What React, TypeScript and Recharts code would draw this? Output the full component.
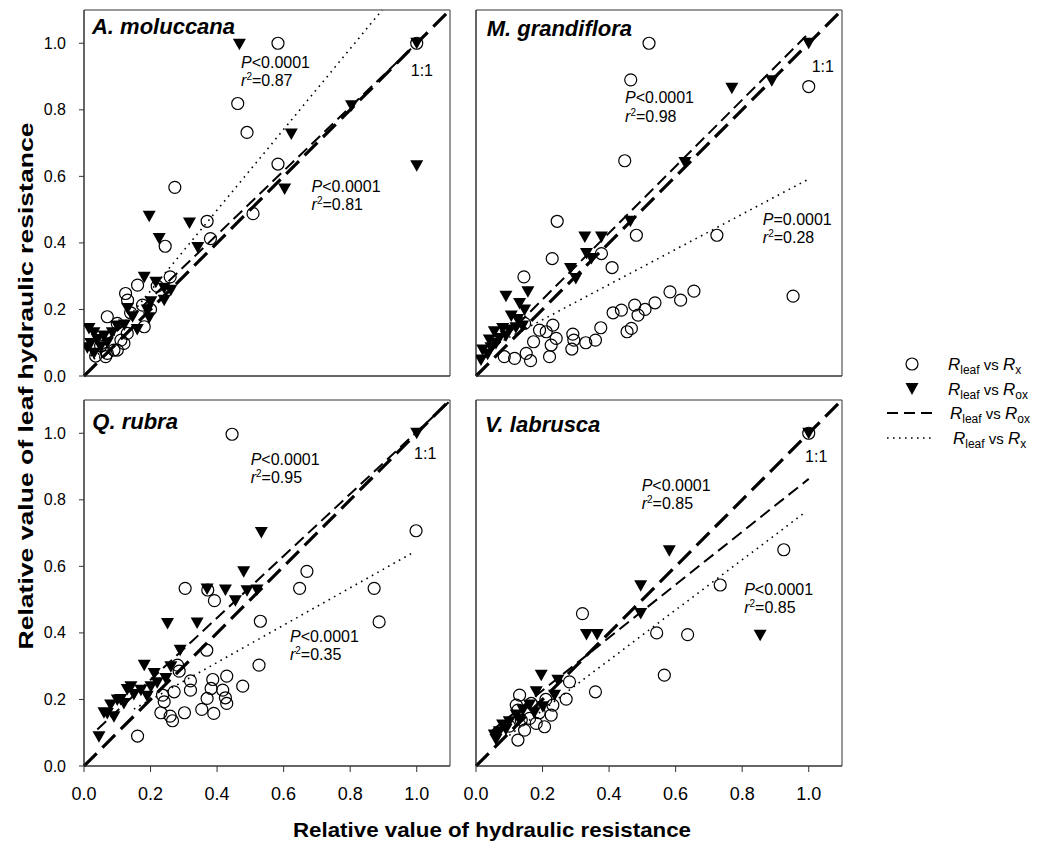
import {
  ScatterChart, Scatter, XAxis, YAxis, ReferenceLine, ReferenceArea, ReferenceDot
} from 'recharts';

type Pt = { x: number; y: number };
const pts = (a: number[][]): Pt[] => a.map(([x, y]) => ({ x, y }));

const ticks = [0, 0.2, 0.4, 0.6, 0.8, 1.0];
const species = ['A. moluccana', 'M. grandiflora', 'Q. rubra', 'V. labrusca'];

// A. moluccana
const molRx = pts([
  [0.583, 1.0], [1.0, 1.0], [0.462, 0.819], [0.49, 0.732], [0.583, 0.637], [0.273, 0.567],
  [0.508, 0.488], [0.37, 0.465], [0.38, 0.413], [0.244, 0.39], [0.259, 0.298], [0.161, 0.273],
  [0.125, 0.248], [0.131, 0.228], [0.176, 0.213], [0.181, 0.148], [0.07, 0.178], [0.1, 0.158],
  [0.13, 0.128], [0.111, 0.108], [0.09, 0.078], [0.07, 0.068], [0.05, 0.09], [0.12, 0.098],
  [0.1, 0.078], [0.065, 0.058], [0.14, 0.19], [0.2, 0.2], [0.22, 0.27], [0.035, 0.06],
]);
const molRox = pts([
  [0.467, 0.997], [1.0, 1.0], [0.804, 0.812], [0.623, 0.727], [1.0, 0.632], [0.603, 0.562],
  [0.196, 0.48], [0.317, 0.46], [0.226, 0.413], [0.342, 0.386], [0.181, 0.297], [0.216, 0.282],
  [0.241, 0.264], [0.261, 0.258], [0.241, 0.228], [0.201, 0.223], [0.131, 0.203], [0.19, 0.198],
  [0.146, 0.178], [0.196, 0.175], [0.121, 0.153], [0.1, 0.15], [0.015, 0.143], [0.03, 0.13],
  [0.06, 0.12], [0.085, 0.13], [0.02, 0.098], [0.05, 0.088], [0.01, 0.085], [0.03, 0.068],
  [0.04, 0.11], [0.16, 0.14], [0.07, 0.1],
]);

// M. grandiflora
const graRx = pts([
  [0.52, 1.0], [0.465, 0.89], [1.0, 0.87], [0.447, 0.647], [0.244, 0.465], [0.482, 0.423],
  [0.724, 0.423], [0.377, 0.368], [0.229, 0.353], [0.409, 0.326], [0.144, 0.298], [0.953, 0.24],
  [0.583, 0.253], [0.655, 0.255], [0.615, 0.228], [0.538, 0.22], [0.477, 0.213], [0.508, 0.2],
  [0.487, 0.183], [0.437, 0.198], [0.412, 0.19], [0.467, 0.143], [0.454, 0.133], [0.375, 0.145],
  [0.359, 0.108], [0.33, 0.1], [0.291, 0.126], [0.294, 0.108], [0.288, 0.081], [0.241, 0.113],
  [0.231, 0.153], [0.226, 0.093], [0.221, 0.058], [0.211, 0.133], [0.191, 0.138], [0.173, 0.103],
  [0.151, 0.068], [0.164, 0.046], [0.116, 0.053], [0.085, 0.058], [0.146, 0.158],
]);
const graRox = pts([
  [1.0, 1.0], [0.769, 0.865], [0.889, 0.887], [0.628, 0.642], [0.464, 0.465], [0.327, 0.418],
  [0.377, 0.418], [0.332, 0.368], [0.347, 0.353], [0.284, 0.323], [0.3, 0.293], [0.09, 0.24],
  [0.156, 0.253], [0.131, 0.218], [0.146, 0.198], [0.106, 0.18], [0.125, 0.17], [0.055, 0.133],
  [0.08, 0.143], [0.1, 0.138], [0.04, 0.108], [0.07, 0.113], [0.02, 0.078], [0.015, 0.048],
  [0.035, 0.065], [0.06, 0.098], [0.12, 0.145], [0.09, 0.12], [0.045, 0.085], [0.14, 0.15],
]);

// Q. rubra
const rubRx = pts([
  [0.445, 0.997], [0.998, 0.707], [0.67, 0.585], [0.304, 0.534], [0.648, 0.534], [0.872, 0.534],
  [0.372, 0.529], [0.392, 0.497], [0.53, 0.435], [0.887, 0.433], [0.369, 0.348], [0.526, 0.303],
  [0.281, 0.303], [0.286, 0.285], [0.429, 0.27], [0.477, 0.24], [0.32, 0.256], [0.387, 0.26],
  [0.382, 0.233], [0.417, 0.228], [0.37, 0.203], [0.429, 0.188], [0.425, 0.205], [0.354, 0.17],
  [0.39, 0.158], [0.302, 0.16], [0.259, 0.15], [0.266, 0.136], [0.231, 0.16], [0.241, 0.193],
  [0.236, 0.213], [0.271, 0.223], [0.32, 0.228], [0.161, 0.09],
]);
const rubRox = pts([
  [1.0, 1.0], [0.533, 0.702], [0.48, 0.584], [0.37, 0.532], [0.425, 0.529], [0.49, 0.527],
  [0.52, 0.529], [0.455, 0.497], [0.251, 0.428], [0.34, 0.43], [0.289, 0.348], [0.181, 0.303],
  [0.261, 0.298], [0.211, 0.278], [0.246, 0.263], [0.141, 0.238], [0.13, 0.23], [0.171, 0.228],
  [0.201, 0.238], [0.1, 0.198], [0.08, 0.183], [0.12, 0.188], [0.07, 0.158], [0.09, 0.148],
  [0.045, 0.088], [0.15, 0.215], [0.19, 0.21], [0.06, 0.16], [0.11, 0.2], [0.22, 0.25],
]);

// V. labrusca
const labRx = pts([
  [1.0, 1.0], [0.925, 0.65], [0.734, 0.544], [0.32, 0.458], [0.543, 0.4], [0.636, 0.395],
  [0.566, 0.273], [0.359, 0.223], [0.271, 0.201], [0.281, 0.253], [0.131, 0.213], [0.121, 0.183],
  [0.126, 0.168], [0.136, 0.138], [0.146, 0.108], [0.126, 0.078], [0.181, 0.128], [0.206, 0.118],
  [0.226, 0.153], [0.231, 0.183], [0.166, 0.188], [0.161, 0.143], [0.19, 0.16], [0.21, 0.2],
  [0.1, 0.12],
]);
const labRox = pts([
  [1.0, 1.0], [0.581, 0.647], [0.495, 0.542], [0.495, 0.458], [0.332, 0.395], [0.364, 0.395],
  [0.854, 0.393], [0.196, 0.273], [0.246, 0.258], [0.181, 0.223], [0.236, 0.213], [0.161, 0.183],
  [0.201, 0.178], [0.141, 0.168], [0.121, 0.153], [0.175, 0.16], [0.1, 0.133], [0.08, 0.123],
  [0.13, 0.14], [0.07, 0.103], [0.09, 0.11], [0.055, 0.093], [0.06, 0.08],
]);

// fitted lines, [x1, y1, x2, y2]
const oneToOne = [0, 0, 1.1, 1.1];
const roxFits = [
  [0.02, 0.06, 1.0, 1.0],
  [0.01, 0.04, 1.0, 1.03],
  [0.04, 0.11, 1.1, 1.097],
  [0.05, 0.108, 1.0, 0.863],
];
const rxFits = [
  [0.03, 0.05, 0.896, 1.1],
  [0.05, 0.09, 1.0, 0.592],
  [0.15, 0.171, 0.99, 0.642],
  [0.1, 0.092, 0.99, 0.763],
];

// statistics text
const pTexts = [
  ['<0.0001', '<0.0001'],
  ['<0.0001', '=0.0001'],
  ['<0.0001', '<0.0001'],
  ['<0.0001', '<0.0001'],
];
const r2Texts = [
  ['0.87', '0.81'],
  ['0.98', '0.28'],
  ['0.95', '0.35'],
  ['0.85', '0.85'],
];

// where the text goes (data units, left/baseline)
const notePos = [
  [[0.472, 0.926], [0.684, 0.554]],
  [[0.448, 0.82], [0.862, 0.454]],
  [[0.501, 0.905], [0.619, 0.374]],
  [[0.498, 0.827], [0.806, 0.514]],
];
const titlePos = [[0.024, 1.028], [0.032, 1.023], [0.025, 1.013], [0.027, 1.003]];
const onePos = [[0.982, 0.902], [1.009, 0.915], [0.992, 0.922], [0.989, 0.915]];

const panelData = [
  { rx: molRx, rox: molRox },
  { rx: graRx, rox: graRox },
  { rx: rubRx, rox: rubRox },
  { rx: labRx, rox: labRox },
];

const layout = [
  { left: 0, top: 0, w: 455, h: 390, yw: 84, xh: 14, xl: false, yl: true },
  { left: 456, top: 0, w: 391, h: 390, yw: 20, xh: 14, xl: false, yl: false },
  { left: 0, top: 390, w: 455, h: 416, yw: 84, xh: 40, xl: true, yl: true },
  { left: 456, top: 390, w: 391, h: 416, yw: 20, xh: 40, xl: true, yl: false },
];

const FONT = '"Liberation Sans", Arial, sans-serif';
const AX = '#333';

const Circ = (p: any) => (
  <circle cx={p.cx} cy={p.cy} r={6} fill="none" stroke="#000" strokeWidth={1.2} />
);
const Tri = (p: any) => (
  <polygon
    points={`${p.cx - 6.5},${p.cy - 5.5} ${p.cx + 6.5},${p.cy - 5.5} ${p.cx},${p.cy + 6}`}
    fill="#000"
  />
);

const YTick = (p: any) => (
  <text x={p.x} y={p.y} textAnchor="end" dominantBaseline="central" fontSize={16} fontFamily={FONT} fill="#000">
    {Number(p.payload.value).toFixed(1)}
  </text>
);
const XTick = (p: any) => (
  <text x={p.x} y={p.y} dy="0.71em" textAnchor="middle" fontSize={18} fontFamily={FONT} fill="#000">
    {Number(p.payload.value).toFixed(1)}
  </text>
);

const Panel = ({ i }: { i: number }) => {
  const L = layout[i];
  const d = panelData[i];
  const seg = (s: number[]) => [{ x: s[0], y: s[1] }, { x: s[2], y: s[3] }];
  return (
    <div style={{ position: 'absolute', left: L.left, top: L.top }}>
      <ScatterChart width={L.w} height={L.h} margin={{ top: 10, right: 5, bottom: 0, left: 0 }}>
        <XAxis
          type="number" dataKey="x" domain={[0, 1.1]} ticks={ticks} height={L.xh}
          tickSize={6} tickMargin={15} stroke={AX} tick={L.xl ? <XTick /> : false}
          allowDataOverflow
        />
        <YAxis
          type="number" dataKey="y" domain={[0, 1.1]} ticks={ticks} width={L.yw}
          tickSize={5} tickMargin={13} stroke={AX} tick={L.yl ? <YTick /> : false}
          allowDataOverflow
        />
        <ReferenceArea x1={0} x2={1.1} y1={0} y2={1.1} fill="none" stroke={AX} strokeWidth={1} />
        <ReferenceLine segment={seg(rxFits[i])} stroke="#000" strokeWidth={1.6} strokeDasharray="1.6 4.6" />
        <ReferenceLine segment={seg(roxFits[i])} stroke="#000" strokeWidth={2} strokeDasharray="12 6" />
        <ReferenceLine segment={seg(oneToOne)} stroke="#000" strokeWidth={3.2} strokeDasharray="18 8" />
        <Scatter data={d.rx} shape={Circ} isAnimationActive={false} />
        <Scatter data={d.rox} shape={Tri} isAnimationActive={false} />
        <ReferenceDot
          x={titlePos[i][0]} y={titlePos[i][1]} r={0}
          shape={(p: any) => (
            <text x={p.cx} y={p.cy} fontSize={22} fontWeight="bold" fontStyle="italic" fontFamily={FONT} fill="#000">
              {species[i]}
            </text>
          )}
        />
        <ReferenceDot
          x={onePos[i][0]} y={onePos[i][1]} r={0}
          shape={(p: any) => (
            <text x={p.cx} y={p.cy} fontSize={16} fontFamily={FONT} fill="#000">1:1</text>
          )}
        />
        {[0, 1].map((k) => (
          <ReferenceDot
            key={k} x={notePos[i][k][0]} y={notePos[i][k][1]} r={0}
            shape={(p: any) => (
              <text x={p.cx} y={p.cy} fontSize={16} fontFamily={FONT} fill="#000">
                <tspan fontStyle="italic">P</tspan>
                <tspan>{pTexts[i][k]}</tspan>
                <tspan x={p.cx} dy={18.5} fontStyle="italic">r</tspan>
                <tspan dy={-6} fontSize={10}>2</tspan>
                <tspan dy={6}>={r2Texts[i][k]}</tspan>
              </text>
            )}
          />
        ))}
      </ScatterChart>
    </div>
  );
};

const LegendText = ({ x, y, sub, gap }: { x: number; y: number; sub: string; gap?: boolean }) => (
  <text x={x} y={y} fontSize={17} fontFamily={FONT} fill="#000">
    <tspan fontStyle="italic">R</tspan>
    <tspan fontSize={12} dy={4}>leaf</tspan>
    <tspan dy={-4} fontSize={15}>{gap ? ' vs  ' : ' vs '}</tspan>
    <tspan fontStyle="italic">R</tspan>
    <tspan fontSize={12} dy={4}>{sub}</tspan>
  </text>
);

export default function App() {
  return (
    <div style={{ position: 'absolute', left: 0, top: 0, width: 1038, height: 844, background: '#fff', fontFamily: FONT }}>
      <svg width={1038} height={844} style={{ position: 'absolute', left: 0, top: 0 }}>
        <text
          x={25} y={386} transform="rotate(-90 25 386)" textAnchor="middle" dominantBaseline="central"
          fontSize={21} fontWeight="bold" fontFamily={FONT} textLength={527} lengthAdjust="spacingAndGlyphs"
        >
          Relative value of leaf hydraulic resistance
        </text>
        <text
          x={492} y={829} textAnchor="middle" dominantBaseline="central"
          fontSize={21} fontWeight="bold" fontFamily={FONT} textLength={398} lengthAdjust="spacingAndGlyphs"
        >
          Relative value of hydraulic resistance
        </text>
        {/* legend */}
        <circle cx={912} cy={364} r={6} fill="none" stroke="#000" strokeWidth={1.2} />
        <LegendText x={948} y={370} sub="x" />
        <polygon points="905.5,383 918.5,383 912,395" fill="#000" />
        <LegendText x={948} y={395} sub="ox" />
        <line x1={887} x2={932} y1={413} y2={413} stroke="#000" strokeWidth={2.2} strokeDasharray="11 6" />
        <LegendText x={950} y={419} sub="ox" gap />
        <line x1={887} x2={932} y1={438} y2={438} stroke="#000" strokeWidth={1.6} strokeDasharray="1.6 4.4" />
        <LegendText x={953} y={444} sub="x" gap />
      </svg>
      {[0, 1, 2, 3].map((i) => (
        <Panel key={i} i={i} />
      ))}
    </div>
  );
}
